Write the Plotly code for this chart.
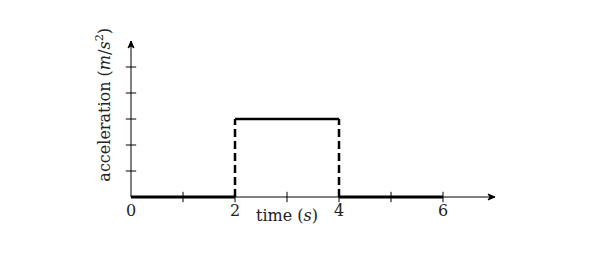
import plotly.graph_objects as go

# Data
baseline_left_t = [0, 2]
baseline_left_a = [0, 0]
baseline_right_t = [4, 6]
baseline_right_a = [0, 0]
pulse_top_t = [2, 4]
pulse_top_a = [3, 3]
edge_times = [2, 4]
pulse_level = 3
x_ticks = [1, 2, 3, 4, 5, 6]
y_ticks = [1, 2, 3, 4, 5]
x_tick_labels = {0: "0", 2: "2", 4: "4", 6: "6"}
x_axis_end = 7
y_axis_end = 6

FONT = "DejaVu Serif"
fig = go.Figure()

# axis lines
fig.add_trace(go.Scatter(x=[0, x_axis_end], y=[0, 0], mode="lines",
                         line=dict(color="black", width=1), hoverinfo="skip"))
fig.add_trace(go.Scatter(x=[0, 0], y=[0, y_axis_end], mode="lines",
                         line=dict(color="black", width=1), hoverinfo="skip"))
# arrowheads (small filled triangles)
hx = 7 / 52
hy = 3 / 26
fig.add_trace(go.Scatter(x=[x_axis_end, x_axis_end - hx, x_axis_end - hx * 0.7, x_axis_end - hx, x_axis_end],
                         y=[0, hy, 0, -hy, 0], mode="lines", fill="toself", fillcolor="black",
                         line=dict(color="black", width=1), hoverinfo="skip"))
vx = 3 / 52
vy = 7 / 26
fig.add_trace(go.Scatter(x=[0, vx, 0, -vx, 0],
                         y=[y_axis_end, y_axis_end - vy, y_axis_end - vy * 0.7, y_axis_end - vy, y_axis_end],
                         mode="lines", fill="toself", fillcolor="black",
                         line=dict(color="black", width=1), hoverinfo="skip"))

# ticks
tx, ty = [], []
for t in x_ticks:
    tx += [t, t, None]
    ty += [-0.2, 0.2, None]
fig.add_trace(go.Scatter(x=tx, y=ty, mode="lines", line=dict(color="black", width=1), hoverinfo="skip"))
ux, uy = [], []
for t in y_ticks:
    ux += [-0.1, 0.1, None]
    uy += [t, t, None]
fig.add_trace(go.Scatter(x=ux, y=uy, mode="lines", line=dict(color="black", width=1), hoverinfo="skip"))

# signal
fig.add_trace(go.Scatter(x=baseline_left_t, y=baseline_left_a, mode="lines",
                         line=dict(color="black", width=3), hoverinfo="skip"))
fig.add_trace(go.Scatter(x=baseline_right_t, y=baseline_right_a, mode="lines",
                         line=dict(color="black", width=3), hoverinfo="skip"))
fig.add_trace(go.Scatter(x=pulse_top_t, y=pulse_top_a, mode="lines",
                         line=dict(color="black", width=2.5), hoverinfo="skip"))
for t in edge_times:
    fig.add_trace(go.Scatter(x=[t, t], y=[0, pulse_level], mode="lines",
                             line=dict(color="black", width=2.5, dash="8px,4px"), hoverinfo="skip"))

annotations = []
for v, lab in x_tick_labels.items():
    annotations.append(dict(x=v, y=-0.5, xref="x", yref="y", text=lab, showarrow=False,
                            font=dict(family=FONT, size=16, color="#222")))
annotations.append(dict(x=3, y=-0.72, xref="x", yref="y", text="time (<i>s</i>)", showarrow=False,
                        font=dict(family=FONT, size=16, color="#222")))
annotations.append(dict(x=-0.52, y=3.55, xref="x", yref="y",
                        text="acceleration (<i>m</i>/<i>s</i><sup>2</sup>)", textangle=-90,
                        showarrow=False, font=dict(family=FONT, size=16, color="#222")))

fig.update_layout(
    width=616, height=278, margin=dict(l=0, r=0, t=0, b=0),
    paper_bgcolor="white", plot_bgcolor="white", showlegend=False,
    xaxis=dict(range=[-131 / 52, 485 / 52], visible=False, fixedrange=True),
    yaxis=dict(range=[-81 / 26, 197 / 26], visible=False, fixedrange=True),
    annotations=annotations,
)
fig.write_html("out.html")
